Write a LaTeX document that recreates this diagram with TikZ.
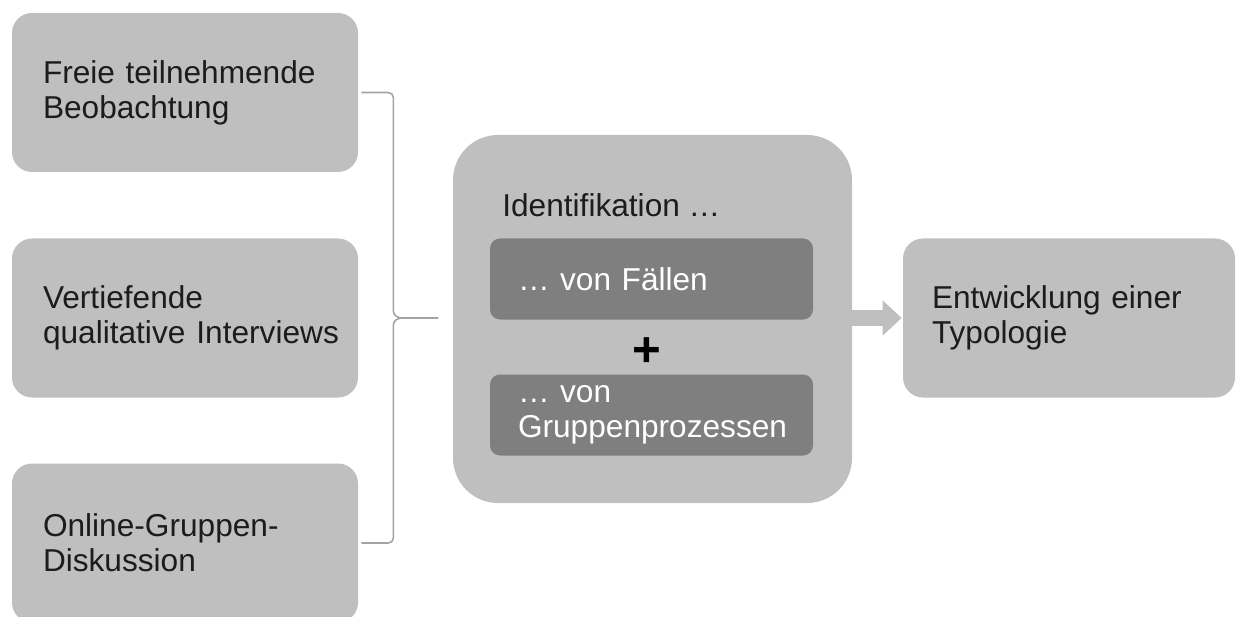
\documentclass[tikz,border=0pt]{standalone}
\usepackage{fontspec}
\setmainfont{Liberation Sans}
\usetikzlibrary{arrows.meta,positioning}
\definecolor{boxgray}{HTML}{BFBFBF}
\definecolor{innergray}{HTML}{7F7F7F}
\definecolor{bracegray}{HTML}{A3A3A3}
\definecolor{txtgray}{HTML}{1C1C1C}
\tikzset{
  source/.style={fill=boxgray, rounded corners=0.4cm, text width=6.92cm, inner xsep=0pt, minimum height=3.18cm, align=left, text=txtgray, font=\fontsize{18}{20}\selectfont, execute at begin node={\leftskip=0.62cm}},
  result/.style={source, text width=6.64cm, execute at begin node={\leftskip=0.58cm}},
  stage/.style={fill=boxgray, rounded corners=0.9cm, minimum width=7.98cm, minimum height=7.36cm},
  part/.style={fill=innergray, rounded corners=0.2cm, text width=6.46cm, inner xsep=0pt, minimum height=1.62cm, align=left, text=white, font=\fontsize{18}{20}\selectfont, execute at begin node={\leftskip=0.56cm}},
  brace/.style={draw=bracegray, line width=0.9pt},
  flow/.style={draw=boxgray, line width=0.32cm, -{Triangle[length=0.38cm,width=0.68cm]}}
}

\begin{document}
\begin{tikzpicture}
\useasboundingbox (0,0) rectangle (24.72,12.32);

% methods
\node[source] (obs) at (3.70,10.47) {Freie teilnehmende\\Beobachtung};
\node[source] (intv) at (3.70,5.96) {Vertiefende\\qualitative\hspace{0.35em}Interviews};
\node[source] (disc) at (3.70,1.46) {Online-Gruppen-\\Diskussion};

% identification
\node[stage] (ident) at (13.05,5.94) {};
\node[anchor=west, inner sep=0pt, text=txtgray, font=\fontsize{18}{20}\selectfont] (identlbl) at (10.04,8.22) {Identifikation …};
\node[part] (cases) at (13.03,6.74) {… von Fällen};
\node[part] (groups) at (13.03,4.02) {… von\\Gruppenprozessen};
\node[inner sep=0pt, font=\fontsize{28}{30}\selectfont\bfseries] (plus) at (12.94,5.28) {+};

% typology
\node[result] (typo) at (21.38,5.96) {Entwicklung einer\\Typologie};

% bracket
\coordinate (tip) at ([xshift=1.6cm]intv.east);
\draw[brace] ([xshift=0.06cm]obs.east) -- ([xshift=0.6cm]obs.east) to[out=0,in=90] ([xshift=0.7cm,yshift=-0.1cm]obs.east) -- ([xshift=0.7cm,yshift=0.14cm]intv.east) to[out=-90,in=180] ([xshift=0.88cm]intv.east) -- (tip);
\draw[brace] ([xshift=0.06cm]disc.east) -- ([xshift=0.6cm]disc.east) to[out=0,in=-90] ([xshift=0.7cm,yshift=0.1cm]disc.east) -- ([xshift=0.7cm,yshift=-0.14cm]intv.east) to[out=90,in=180] ([xshift=0.88cm]intv.east);

% arrow
\draw[flow] (ident.east |- typo.west) -- ([xshift=-0.02cm]typo.west);

\end{tikzpicture}
\end{document}
